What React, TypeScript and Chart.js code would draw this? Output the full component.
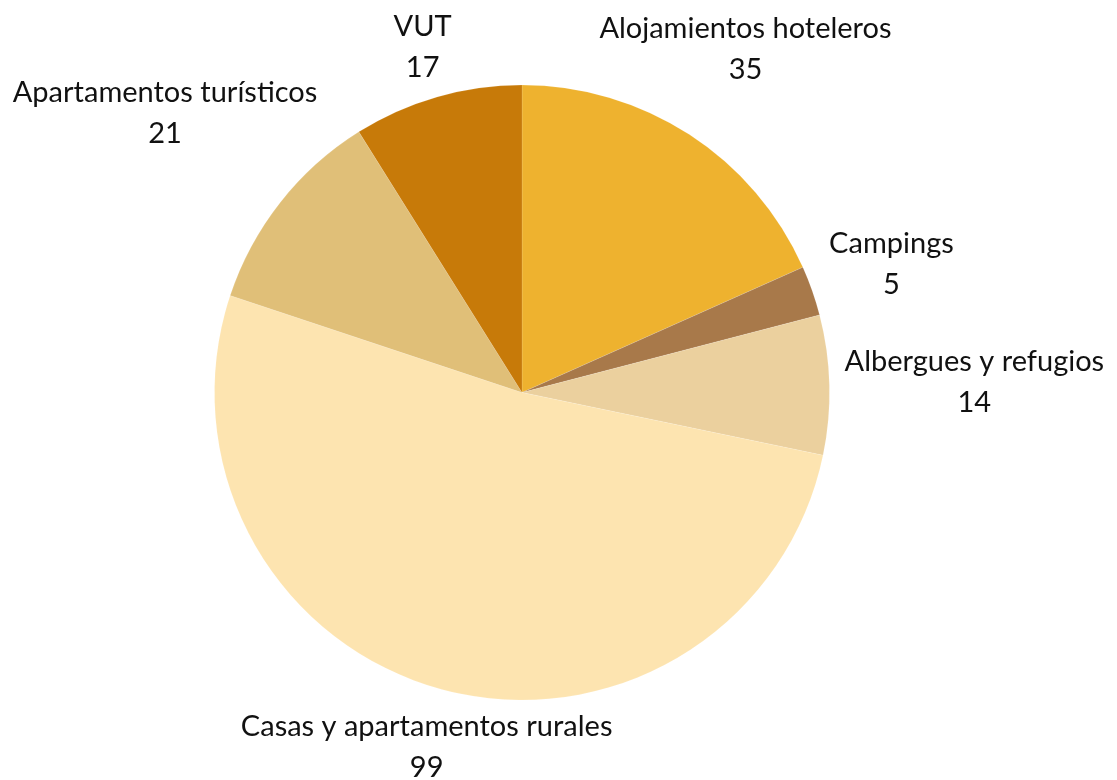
import React, { useEffect, useRef } from "react";
import { Chart, registerables } from "chart.js";

Chart.register(...registerables);

const categories = [
  "Alojamientos hoteleros",
  "Campings",
  "Albergues y refugios",
  "Casas y apartamentos rurales",
  "Apartamentos turísticos",
  "VUT",
];
const values = [35, 5, 14, 99, 21, 17];
const colors = ["#EEB22F", "#A8794A", "#EBD09E", "#FDE4B0", "#E0BF78", "#C77A09"];

const FONT = "29px Lato";
const NAME_DY = -10;
const VALUE_DY = 31;
const HALF_H = 31;
const GAP = 15;

const outsideLabels = {
  id: "outsideLabels",
  afterDraw(chart: any) {
    const ctx = chart.ctx;
    const meta = chart.getDatasetMeta(0);
    ctx.save();
    ctx.font = FONT;
    ctx.fillStyle = "#111111";
    ctx.textAlign = "center";
    ctx.textBaseline = "alphabetic";
    meta.data.forEach((arc: any, i: number) => {
      const { x, y, startAngle, endAngle, outerRadius } = arc.getProps(
        ["x", "y", "startAngle", "endAngle", "outerRadius"],
        true
      );
      const mid = (startAngle + endAngle) / 2;
      const ux = Math.cos(mid);
      const uy = Math.sin(mid);
      const name = categories[i];
      const val = String(values[i]);
      const halfW = Math.max(ctx.measureText(name).width, ctx.measureText(val).width) / 2;
      const R0 = outerRadius + GAP;
      let t = outerRadius;
      for (let k = 0; k < 2000; k++) {
        const cx = ux * t;
        const cy = uy * t;
        const dx = Math.max(Math.abs(cx) - halfW, 0);
        const dy = Math.max(Math.abs(cy) - HALF_H, 0);
        if (Math.hypot(dx, dy) >= R0) break;
        t += 0.5;
      }
      const lx = x + ux * t;
      const ly = y + uy * t;
      ctx.fillText(name, lx, ly + NAME_DY);
      ctx.fillText(val, lx, ly + VALUE_DY);
    });
    ctx.restore();
  },
};

export default function App() {
  const ref = useRef<HTMLCanvasElement>(null);
  useEffect(() => {
    document.body.style.margin = "0";
    const chart = new Chart(ref.current!, {
      type: "pie",
      data: {
        labels: categories,
        datasets: [
          {
            data: values,
            backgroundColor: colors,
            borderColor: "rgba(255,255,255,0.12)",
            borderWidth: 1,
          },
        ],
      },
      options: {
        animation: false,
        responsive: true,
        maintainAspectRatio: false,
        layout: { padding: { left: 214, right: 287, top: 84, bottom: 79 } },
        plugins: {
          legend: { display: false },
          tooltip: { enabled: false },
        },
      },
      plugins: [outsideLabels],
    });
    return () => chart.destroy();
  }, []);
  return (
    <div style={{ width: 1117, height: 780, position: "relative" }}>
      <canvas ref={ref} />
    </div>
  );
}
